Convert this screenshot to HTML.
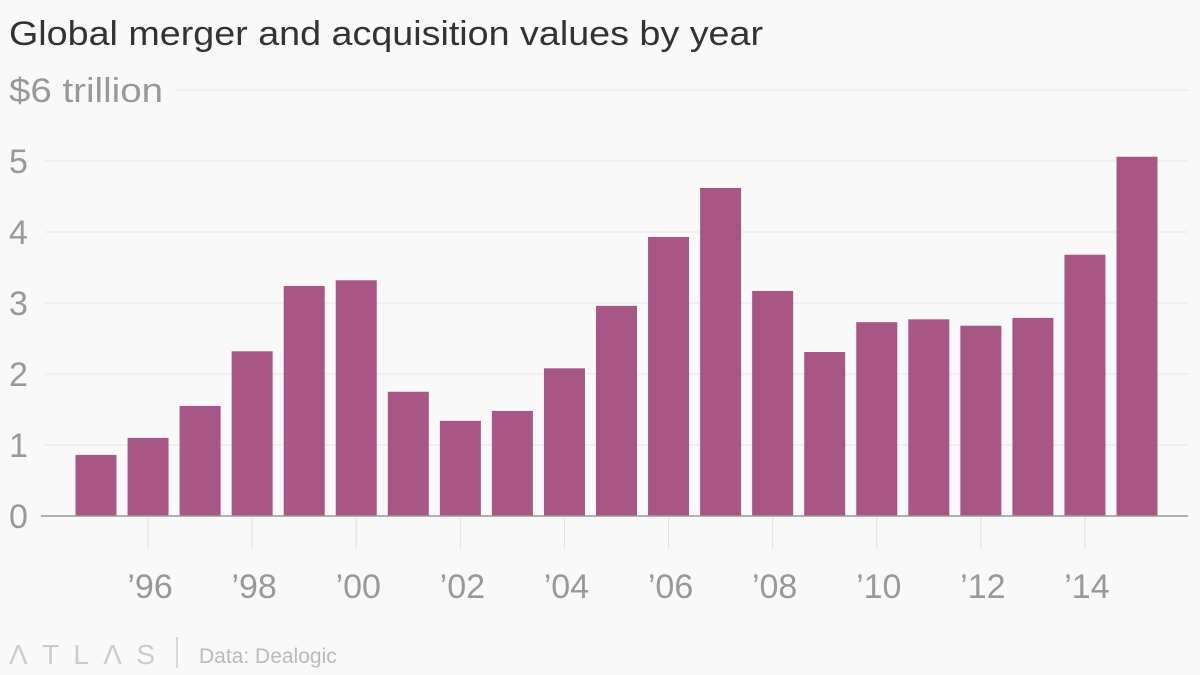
<!DOCTYPE html>
<html><head><meta charset="utf-8"><style>
html,body{margin:0;padding:0;background:#f9f9f9;}
svg{display:block;font-family:"Liberation Sans",sans-serif;}
</style></head><body>
<svg id="chart" width="1200" height="675" viewBox="0 0 1200 675">
<text x="9" y="45" font-size="34" fill="#333" textLength="754" lengthAdjust="spacingAndGlyphs">Global merger and acquisition values by year</text>
<g id="grid"></g><g id="bars"></g><g id="xaxis"></g>
<g>
<text x="9" y="664" font-size="28" fill="#ccc" textLength="146" lengthAdjust="spacing">ΛTLΛS</text>
<line x1="177" y1="637" x2="177" y2="668" stroke="#ccc" stroke-width="1.5"/>
<text x="199" y="663" font-size="21" fill="#bbb">Data: Dealogic</text>
</g>
</svg>
<script>
const years=[1995,1996,1997,1998,1999,2000,2001,2002,2003,2004,2005,2006,2007,2008,2009,2010,2011,2012,2013,2014,2015];
const values=[0.86,1.10,1.55,2.32,3.24,3.32,1.75,1.34,1.48,2.08,2.96,3.93,4.62,3.17,2.31,2.73,2.77,2.68,2.79,3.68,5.06];
const yTicks=[0,1,2,3,4,5,6];
const yTickLabels=["0","1","2","3","4","5","$6 trillion"];
const xTickYears=[1996,1998,2000,2002,2004,2006,2008,2010,2012,2014];
const xTickLabels=["’96","’98","’00","’02","’04","’06","’08","’10","’12","’14"];
const NS="http://www.w3.org/2000/svg";
const y=v=>516-v*71;
const x=yr=>96+(yr-1995)*52.05;
const bw=41;
function mk(t,a,p){const e=document.createElementNS(NS,t);for(const k in a)e.setAttribute(k,a[k]);p.appendChild(e);return e;}
const grid=document.getElementById('grid'),bars=document.getElementById('bars'),xa=document.getElementById('xaxis');
yTicks.forEach((v,i)=>{
  if(v>0){const l=mk('line',{x1:i===6?175:45,x2:1188,y1:y(v),y2:y(v),stroke:'#e6e6e6','stroke-width':1},grid);
  
  }
  const t=mk('text',{x:9,y:y(v)+12,'font-size':34,fill:'#999'},grid);t.textContent=yTickLabels[i];
  if(i===6){t.setAttribute('textLength','154');t.setAttribute('lengthAdjust','spacingAndGlyphs');}
  
  
});
years.forEach((yr,i)=>{
  const r=mk('rect',{x:x(yr)-bw/2,y:y(values[i]),width:bw,height:516-y(values[i]),fill:'#a85685'},bars);
  
  
});
xTickYears.forEach((yr,i)=>{
  const l=mk('line',{x1:x(yr),x2:x(yr),y1:517,y2:549,stroke:'#e0e0e0','stroke-width':1},xa);
  
  
  const t=mk('text',{x:x(yr)+2,y:598,'font-size':34,fill:'#999','text-anchor':'middle'},xa);t.textContent=xTickLabels[i];
  
  
});
const ax=mk('line',{x1:41,x2:1188,y1:516,y2:516,stroke:'#999','stroke-width':1.5},xa);


</script>
</body></html>
